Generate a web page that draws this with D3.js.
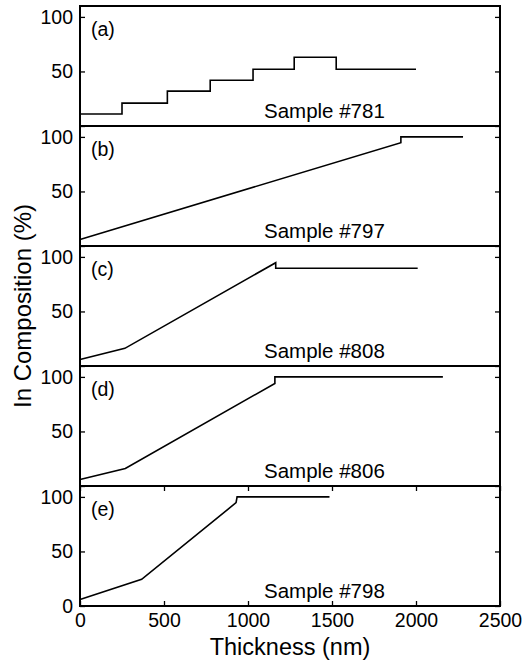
<!DOCTYPE html>
<meta charset="utf-8">
<style>
  body { margin: 0; background: #fff; }
  text { font-family: "Liberation Sans", Arial, sans-serif; fill: #000; }
</style>
<svg id="chart"></svg>

<script src="https://d3js.org/d3.v7.min.js"></script>
<script>

// panel labels and sample names
var panelLabels = ["(a)", "(b)", "(c)", "(d)", "(e)"]
var sampleNames = ["Sample #781", "Sample #797", "Sample #808", "Sample #806", "Sample #798"]

// thickness (nm) / In composition (%)
var x781 = [0, 250, 520, 775, 1030, 1275, 1525, 2000]
var y781 = [11, 21, 32, 42, 52, 63, 52, 52]

var x797 = [0, 1910, 1910, 2280]
var y797 = [6, 94.7, 100, 100]

var x808 = [0, 267, 1165, 1165, 2010]
var y808 = [6, 16.2, 94.7, 89.6, 89.6]

var x806 = [0, 270, 1160, 1160, 2160]
var y806 = [6, 16, 94, 100, 100]

var x798 = [0, 367, 929, 935, 1485]
var y798 = [6, 24.5, 94.7, 100, 100]

var xTicks = [0, 500, 1000, 1500, 2000, 2500]
var yTicks = [0, 50, 100]

var series = [
  { x: x781, y: y781, step: true },
  { x: x797, y: y797 },
  { x: x808, y: y808 },
  { x: x806, y: y806 },
  { x: x798, y: y798 }
]

var width = 527
var height = 662
var margin = { left: 80, top: 6 }
var plotW = 420
var panelH = 120

var svg = d3.select("#chart")
    .attr("width", width)
    .attr("height", height)

var x = d3.scaleLinear().domain([0, 2500]).range([0, plotW])
var y = d3.scaleLinear().domain([0, 110]).range([panelH, 0])

series.forEach(function(s, i) {
  var last = i === series.length - 1
  var g = svg.append("g")
      .attr("transform", "translate(" + margin.left + "," + (margin.top + i * panelH) + ")")

  var pts = s.x.map(function(v, k) { return [v, s.y[k]] })
  var line = d3.line()
      .x(function(d) { return x(d[0]) })
      .y(function(d) { return y(d[1]) })
      .curve(s.step ? d3.curveStepAfter : d3.curveLinear)

  g.append("path")
      .datum(pts)
      .attr("fill", "none")
      .attr("stroke", "#000")
      .attr("stroke-width", 1.6)
      .attr("stroke-linejoin", "miter")
      .attr("d", line)

  // y axis left with labels, ticks inward
  var yl = g.append("g")
      .call(d3.axisLeft(y).tickValues(yTicks).tickSize(-5).tickPadding(7)
        .tickFormat(function(d) { return (d === 0 && !last) ? "" : d }))
  // y axis right, ticks only
  var yr = g.append("g")
      .attr("transform", "translate(" + plotW + ",0)")
      .call(d3.axisRight(y).tickValues(yTicks).tickSize(-5).tickFormat(""))

  var axes = [yl, yr]

  if (last) {
    var xb = g.append("g")
        .attr("transform", "translate(0," + panelH + ")")
        .call(d3.axisBottom(x).tickValues(xTicks).tickSize(-5).tickPadding(7)
          .tickFormat(d3.format("d")))
    var xt = g.append("g")
        .call(d3.axisTop(x).tickValues(xTicks).tickSize(-5).tickFormat(""))
    axes.push(xb, xt)
  }

  axes.forEach(function(a) {
    a.select(".domain").remove()
    a.selectAll("line").attr("stroke", "#000").attr("stroke-width", 1.3)
    a.selectAll("text")
        .style("font-family", "'Liberation Sans', Arial, sans-serif")
        .style("font-size", "19.5px")
        .attr("fill", "#000")
  })

  // frame
  g.append("rect")
      .attr("x", 0)
      .attr("y", 0)
      .attr("width", plotW)
      .attr("height", panelH)
      .attr("fill", "none")
      .attr("stroke", "#000")
      .attr("stroke-width", 2)

  g.append("text")
      .attr("x", 11)
      .attr("y", 30)
      .style("font-size", "19.5px")
      .text(panelLabels[i])

  g.append("text")
      .attr("x", 184)
      .attr("y", panelH - 8)
      .style("font-size", "20.5px")
      .text(sampleNames[i])
})

svg.append("text")
    .attr("x", margin.left + plotW / 2)
    .attr("y", 655)
    .attr("text-anchor", "middle")
    .style("font-size", "23.5px")
    .text("Thickness (nm)")

svg.append("text")
    .attr("transform", "translate(31," + (margin.top + panelH * 5 / 2) + ") rotate(-90)")
    .attr("text-anchor", "middle")
    .style("font-size", "24px")
    .text("In Composition (%)")

</script>
